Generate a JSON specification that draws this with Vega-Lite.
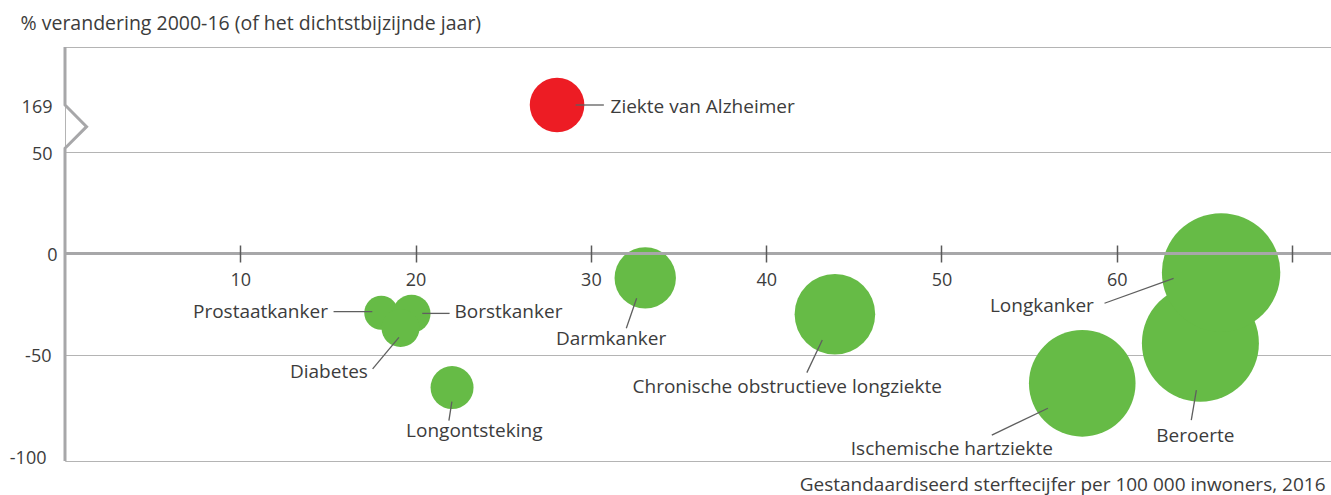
{
  "$schema": "https://vega.github.io/schema/vega-lite/v6.json",
  "width": 1266,
  "height": 414,
  "autosize": {"type": "none"},
  "padding": {"left": 65, "top": 47, "right": 0, "bottom": 34},
  "background": "white",
  "config": {
    "font": "Open Sans",
    "view": {"stroke": "#b4b4b4", "strokeWidth": 1}
  },
  "datasets": {
    "bubbles": [
      {"ziekte": "Ziekte van Alzheimer", "x": 28.07, "y": 169, "v": 745, "groep": "stijging"},
      {"ziekte": "Prostaatkanker", "x": 18.04, "y": -29.3, "v": 289, "groep": "daling"},
      {"ziekte": "Borstkanker", "x": 19.77, "y": -29.8, "v": 361, "groep": "daling"},
      {"ziekte": "Diabetes", "x": 19.14, "y": -36.8, "v": 361, "groep": "daling"},
      {"ziekte": "Longontsteking", "x": 22.08, "y": -66.2, "v": 462, "groep": "daling"},
      {"ziekte": "Darmkanker", "x": 33.1, "y": -12.1, "v": 942, "groep": "daling"},
      {"ziekte": "Chronische obstructieve longziekte", "x": 43.92, "y": -30.0, "v": 1624, "groep": "daling"},
      {"ziekte": "Ischemische hartziekte", "x": 58.03, "y": -64.1, "v": 2841, "groep": "daling"},
      {"ziekte": "Beroerte", "x": 64.77, "y": -44.3, "v": 3422, "groep": "daling"},
      {"ziekte": "Longkanker", "x": 65.95, "y": -9.4, "v": 3505, "groep": "daling"}
    ],
    "leaders": [
      {"ziekte": "Ziekte van Alzheimer", "x": 29.13, "y": 169, "x2": 30.74, "y2": 169},
      {"ziekte": "Prostaatkanker", "x": 15.32, "y": -28.75, "x2": 17.53, "y2": -28.75},
      {"ziekte": "Borstkanker", "x": 20.38, "y": -29.6, "x2": 21.94, "y2": -29.6},
      {"ziekte": "Diabetes", "x": 17.55, "y": -57.0, "x2": 19.05, "y2": -41.4},
      {"ziekte": "Longontsteking", "x": 22.07, "y": -73.1, "x2": 21.9, "y2": -82.5},
      {"ziekte": "Darmkanker", "x": 32.61, "y": -22.1, "x2": 32.02, "y2": -36.9},
      {"ziekte": "Chronische obstructieve longziekte", "x": 43.2, "y": -42.7, "x2": 42.32, "y2": -58.8},
      {"ziekte": "Longkanker", "x": 59.3, "y": -24.6, "x2": 63.24, "y2": -12.3},
      {"ziekte": "Ischemische hartziekte", "x": 52.87, "y": -89.6, "x2": 56.07, "y2": -76.4},
      {"ziekte": "Beroerte", "x": 64.54, "y": -67.4, "x2": 64.25, "y2": -82.2}
    ],
    "labels_left": [
      {"ziekte": "Ziekte van Alzheimer", "x": 31.12, "y": 148},
      {"ziekte": "Borstkanker", "x": 22.22, "y": -32.0}
    ],
    "labels_right": [
      {"ziekte": "Prostaatkanker", "x": 15.0, "y": -32.0},
      {"ziekte": "Diabetes", "x": 17.28, "y": -61.6},
      {"ziekte": "Longkanker", "x": 58.69, "y": -28.75}
    ],
    "labels_center": [
      {"ziekte": "Longontsteking", "x": 23.35, "y": -90.7},
      {"ziekte": "Darmkanker", "x": 31.15, "y": -45.2},
      {"ziekte": "Chronische obstructieve longziekte", "x": 41.2, "y": -69.0},
      {"ziekte": "Ischemische hartziekte", "x": 50.59, "y": -99.4},
      {"ziekte": "Beroerte", "x": 64.48, "y": -92.9}
    ],
    "yas": [
      {"i": 1, "x": 0, "y": 197.6},
      {"i": 2, "x": 0, "y": 169},
      {"i": 3, "x": 1.23, "y": 114.1},
      {"i": 4, "x": 0, "y": 59.4},
      {"i": 5, "x": 0, "y": -102.4}
    ]
  },
  "layer": [
    {
      "data": {"name": "bubbles"},
      "mark": {"type": "circle", "opacity": 1},
      "encoding": {
        "x": {
          "field": "x", "type": "quantitative",
          "scale": {"domain": [0, 72.22], "nice": false, "zero": false},
          "axis": {
            "orient": "bottom", "offset": -216, "values": [10, 20, 30, 40, 50, 60, 70],
            "labelExpr": "datum.value == 70 ? '' : datum.label",
            "domain": false, "grid": false, "zindex": 1,
            "tickSize": 17, "tickColor": "#5a5a5a", "tickWidth": 1.5,
            "labelPadding": 9, "labelFontSize": 18, "labelColor": "#3c3c3c", "labelFont": "Open Sans", "labelFlush": false,
            "title": "Gestandaardiseerd sterftecijfer per 100 000 inwoners, 2016",
            "titleX": 1260, "titleY": 245, "titleAlign": "right", "titleBaseline": "alphabetic",
            "titleFontSize": 19, "titleFontWeight": "normal", "titleColor": "#3c3c3c", "titleFont": "Open Sans"
          }
        },
        "y": {
          "field": "y", "type": "quantitative",
          "scale": {"domain": [-102.4, 50, 169, 197.6], "range": [414, 105, 58, 0], "nice": false, "zero": false},
          "axis": {
            "values": [-100, -50, 0, 50, 169],
            "labelExpr": "'' + datum.value",
            "domain": false, "ticks": false, "tickSize": 0,
            "labelPadding": {"condition": [{"test": "datum.value == 0", "value": 8}, {"test": "datum.value == -50", "value": 14}, {"test": "datum.value == -100", "value": 19}], "value": 13},
            "labelFontSize": 18, "labelColor": "#3c3c3c", "labelFont": "Open Sans", "labelOffset": 2,
            "grid": true, "gridColor": "#b4b4b4", "gridWidth": 1,
            "gridOpacity": {"condition": {"test": "datum.value == 169 || datum.value == -100 || datum.value == 0", "value": 0}, "value": 1},
            "title": "% verandering 2000-16 (of het dichtstbijzijnde jaar)",
            "titleAngle": 0, "titleX": -45, "titleY": -17.7, "titleAlign": "left", "titleBaseline": "alphabetic",
            "titleFontSize": 19.5, "titleFontWeight": "normal", "titleColor": "#3c3c3c", "titleFont": "Open Sans"
          }
        },
        "size": {"field": "v", "type": "quantitative", "scale": {"type": "linear", "domain": [0, 3505], "range": [0, 14020], "zero": true}, "legend": null},
        "color": {"field": "groep", "type": "nominal", "scale": {"domain": ["stijging", "daling"], "range": ["#ED1C24", "#66BB46"]}, "legend": null}
      }
    },
    {
      "data": {"values": [{}]},
      "mark": {"type": "rule", "color": "#a7a7a9", "strokeWidth": 3},
      "encoding": {
        "y": {"datum": 0, "type": "quantitative"}
      }
    },
    {
      "data": {"name": "yas"},
      "mark": {"type": "line", "color": "#a7a7a9", "strokeWidth": 3, "strokeJoin": "miter"},
      "encoding": {
        "x": {"field": "x", "type": "quantitative"},
        "y": {"field": "y", "type": "quantitative"},
        "order": {"field": "i", "type": "quantitative"}
      }
    },
    {
      "data": {"name": "leaders"},
      "mark": {"type": "rule", "color": "#5f5f5f", "strokeWidth": 1.3},
      "encoding": {
        "x": {"field": "x", "type": "quantitative"},
        "y": {"field": "y", "type": "quantitative"},
        "x2": {"field": "x2"},
        "y2": {"field": "y2"}
      }
    },
    {
      "data": {"name": "labels_left"},
      "mark": {"type": "text", "align": "left", "baseline": "alphabetic", "fontSize": 19, "color": "#3c3c3c", "font": "Open Sans"},
      "encoding": {
        "x": {"field": "x", "type": "quantitative"},
        "y": {"field": "y", "type": "quantitative"},
        "text": {"field": "ziekte"}
      }
    },
    {
      "data": {"name": "labels_right"},
      "mark": {"type": "text", "align": "right", "baseline": "alphabetic", "fontSize": 19, "color": "#3c3c3c", "font": "Open Sans"},
      "encoding": {
        "x": {"field": "x", "type": "quantitative"},
        "y": {"field": "y", "type": "quantitative"},
        "text": {"field": "ziekte"}
      }
    },
    {
      "data": {"name": "labels_center"},
      "mark": {"type": "text", "align": "center", "baseline": "alphabetic", "fontSize": 19, "color": "#3c3c3c", "font": "Open Sans"},
      "encoding": {
        "x": {"field": "x", "type": "quantitative"},
        "y": {"field": "y", "type": "quantitative"},
        "text": {"field": "ziekte"}
      }
    }
  ]
}
